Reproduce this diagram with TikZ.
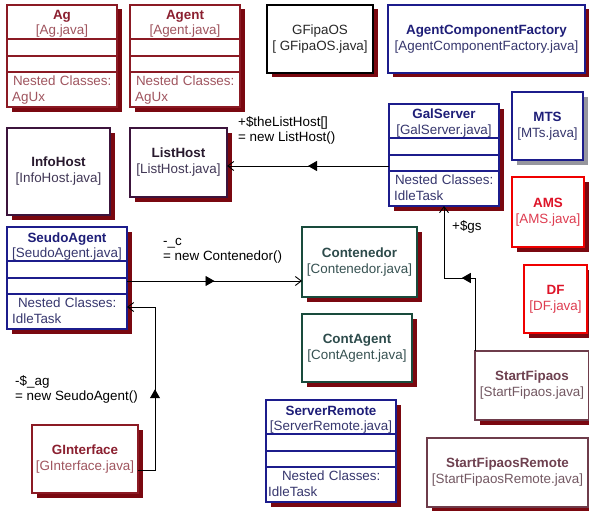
\documentclass[tikz,border=0pt]{standalone}
\usepackage{fontspec}
\setmainfont{Liberation Sans}
\usepackage{tikz}
\usetikzlibrary{arrows.meta, calc, shadows, decorations.markings}

% class box colours
\definecolor{shdw}{RGB}{122,8,16}
\definecolor{mtsshdw}{RGB}{150,150,158}
\definecolor{marline}{RGB}{139,26,36}
\definecolor{martitle}{RGB}{139,32,48}
\definecolor{marsub}{RGB}{160,85,95}
\definecolor{navyline}{RGB}{28,28,140}
\definecolor{navytitle}{RGB}{30,30,120}
\definecolor{navysub}{RGB}{55,55,110}
\definecolor{plumline}{RGB}{60,20,60}
\definecolor{plumtitle}{RGB}{40,25,45}
\definecolor{plumsub}{RGB}{65,55,85}
\definecolor{redline}{RGB}{240,0,0}
\definecolor{redtitle}{RGB}{222,20,40}
\definecolor{redsub}{RGB}{222,60,80}
\definecolor{tealline}{RGB}{25,75,60}
\definecolor{tealtitle}{RGB}{45,75,75}
\definecolor{tealsub}{RGB}{55,82,82}
\definecolor{mauveline}{RGB}{110,60,75}
\definecolor{mauvetitle}{RGB}{110,65,80}
\definecolor{mauvesub}{RGB}{115,88,98}
\definecolor{blkline}{RGB}{0,0,0}
\definecolor{blktitle}{RGB}{40,40,40}
\definecolor{blksub}{RGB}{40,40,40}
\colorlet{ttl}{black}

\newcommand{\boxfont}{\fontsize{13.4}{16}\selectfont}
\newcommand{\hdrfont}{\fontsize{13.4}{15.5}\selectfont}
\newcommand{\lblfont}{\fontsize{13.4}{15}\selectfont}
\newcommand{\clsname}[1]{{\color{ttl}\bfseries #1}}

\begin{document}
\begin{tikzpicture}[x=1pt, y=-1pt,
  box/.style={draw=#1line, text=#1sub, fill=white, line width=1.6pt,
    inner sep=0pt, outer sep=0pt, anchor=north west, align=center, font=\boxfont,
    execute at begin node={\colorlet{ttl}{#1title}}},
  shd/.style={drop shadow={shadow xshift=4.5pt, shadow yshift=-4.5pt, opacity=1, fill=#1}},
  shd/.default=shdw,
  hdr/.style={text=#1sub, anchor=base, inner sep=0pt, align=center, font=\hdrfont,
    execute at begin node={\colorlet{ttl}{#1title}}},
  nst/.style={text=#1sub, anchor=base west, inner sep=0pt, font=\boxfont},
  cmp/.style={line width=1.3pt},
  lbl/.style={anchor=base west, inner sep=0pt, align=left, font=\lblfont},
  assoc/.style={line width=0.9pt, -{Straight Barb[length=6pt, width=9pt]},
    postaction={decorate, decoration={markings,
      mark=at position #1 with {\arrow{Triangle[length=9pt, width=10pt]}}}}}]
  \useasboundingbox (0,0) rectangle (589,511);
  \fill[white] (0,0) rectangle (589,511);

  % classes with compartments
  \node[box=mar, shd, minimum width=110pt, minimum height=102pt] (Ag) at (7,5) {};
  \node[box=mar, shd, minimum width=110pt, minimum height=102pt] (Agent) at (130,5) {};
  \node[box=navy, shd, minimum width=110pt, minimum height=102pt] (GalServer) at (389,104) {};
  \node[box=navy, shd, minimum width=120pt, minimum height=102pt] (SeudoAgent) at (7,227) {};
  \node[box=navy, shd, minimum width=130pt, minimum height=102pt] (ServerRemote) at (266,400) {};
  \foreach \c/\col in {Ag/marline, Agent/marline, GalServer/navyline,
                       SeudoAgent/navyline, ServerRemote/navyline}
    \foreach \d in {34,51,67}
      \draw[cmp, \col] ($(\c.north west)+(0,\d)$) -- ($(\c.north east)+(0,\d)$);

  % header base = baseline of the file name line
  \node[hdr=mar] (Ag-h) at ($(Ag.north)+(0,30)$) {\clsname{Ag}\\{}[Ag.java]};
  \node[nst=mar, text width=100pt] (Ag-n) at ($(Ag.north west)+(5,80.5)$)
    {\centering Nested Classes:\par\raggedright AgUx};
  \node[hdr=mar] (Agent-h) at ($(Agent.north)+(0,30)$) {\clsname{Agent}\\{}[Agent.java]};
  \node[nst=mar, text width=100pt] (Agent-n) at ($(Agent.north west)+(5,80.5)$)
    {\centering Nested Classes:\par\raggedright AgUx};
  \node[hdr=navy] (GalServer-h) at ($(GalServer.north)+(0,30)$) {\clsname{GalServer}\\{}[GalServer.java]};
  \node[nst=navy, text width=100pt] (GalServer-n) at ($(GalServer.north west)+(5,80.5)$)
    {\centering Nested Classes:\par\raggedright IdleTask};
  \node[hdr=navy] (SeudoAgent-h) at ($(SeudoAgent.north)+(0,30.5)$) {\clsname{SeudoAgent}\\{}[SeudoAgent.java]};
  \node[nst=navy, text width=110pt] (SeudoAgent-n) at ($(SeudoAgent.north west)+(5,80.5)$)
    {\centering Nested Classes:\par\raggedright IdleTask};
  \node[hdr=navy] (ServerRemote-h) at ($(ServerRemote.north)+(0,30.5)$) {\clsname{ServerRemote}\\{}[ServerRemote.java]};
  \node[nst=navy, text width=126pt] (ServerRemote-n) at ($(ServerRemote.north west)+(2,80.5)$)
    {\centering Nested Classes:\par\raggedright IdleTask};

  % plain classes
  \node[box=blk, shd, minimum width=106pt, minimum height=68pt] (GFipaOS) at (267,5) {GFipaOS\\{}[ GFipaOS.java]};
  \node[box=navy, shd, minimum width=197pt, minimum height=68pt] (AgentComponentFactory) at (388,5)
    {\clsname{AgentComponentFactory}\\{}[AgentComponentFactory.java]};
  \node[box=plum, shd, minimum width=103pt, minimum height=87pt] (InfoHost) at (7,128) {\clsname{InfoHost}\\{}[InfoHost.java]};
  \node[box=plum, shd, minimum width=97pt, minimum height=69pt] (ListHost) at (130,128) {\clsname{ListHost}\\{}[ListHost.java]};
  \node[box=navy, shd=mtsshdw, minimum width=71pt, minimum height=68pt] (MTS) at (512,92) {\clsname{MTS}\\{}[MTs.java]};
  \node[box=red, shd, minimum width=72pt, minimum height=70pt] (AMS) at (512,177) {\clsname{AMS}\\{}[AMS.java]};
  \node[box=red, shd, minimum width=63pt, minimum height=68pt] (DF) at (524,265) {\clsname{DF}\\{}[DF.java]};
  \node[box=teal, shd, minimum width=115pt, minimum height=70pt] (Contenedor) at (302,227) {\clsname{Contenedor}\\{}[Contenedor.java]};
  \node[box=teal, shd, minimum width=110pt, minimum height=68pt] (ContAgent) at (302,314) {\clsname{ContAgent}\\{}[ContAgent.java]};
  \node[box=mauve, shd, minimum width=114pt, minimum height=69pt] (StartFipaos) at (475,351) {\clsname{StartFipaos}\\{}[StartFipaos.java]};
  \node[box=mauve, shd, minimum width=161pt, minimum height=69pt] (StartFipaosRemote) at (427,438)
    {\clsname{StartFipaosRemote}\\{}[StartFipaosRemote.java]};
  \node[box=mar, shd, minimum width=106pt, minimum height=68pt] (GInterface) at (32,425) {\clsname{GInterface}\\{}[GInterface.java]};

  % associations (label base = last line)
  \draw[assoc=0.5] ([yshift=-11pt]GalServer.west) -- ([yshift=-11pt]GalServer.west -| ListHost.east);
  \node[lbl] (ListHost-lbl) at (238,141) {+\$theListHost[]\\= new ListHost()};

  \draw[assoc=0.5] ([yshift=-3pt]SeudoAgent.east) -- ([yshift=-3pt]SeudoAgent.east -| Contenedor.west);
  \node[lbl] (Contenedor-lbl) at (163,260) {-\_c\\= new Contenedor()};

  \coordinate (gi-bend) at (155,307);
  \draw[assoc=0.47] ([yshift=-11pt]GInterface.east) -| (gi-bend) -- (gi-bend -| SeudoAgent.east);
  \node[lbl] (SeudoAgent-lbl) at (15,400) {-\$\_ag\\= new SeudoAgent()};

  \coordinate (sf-bend) at (475,278);
  \draw[assoc=0.49] (StartFipaos.north west) -- (sf-bend) -| (GalServer.south);
  \node[lbl] (GalServer-lbl) at (452,230) {+\$gs};
\end{tikzpicture}
\end{document}
